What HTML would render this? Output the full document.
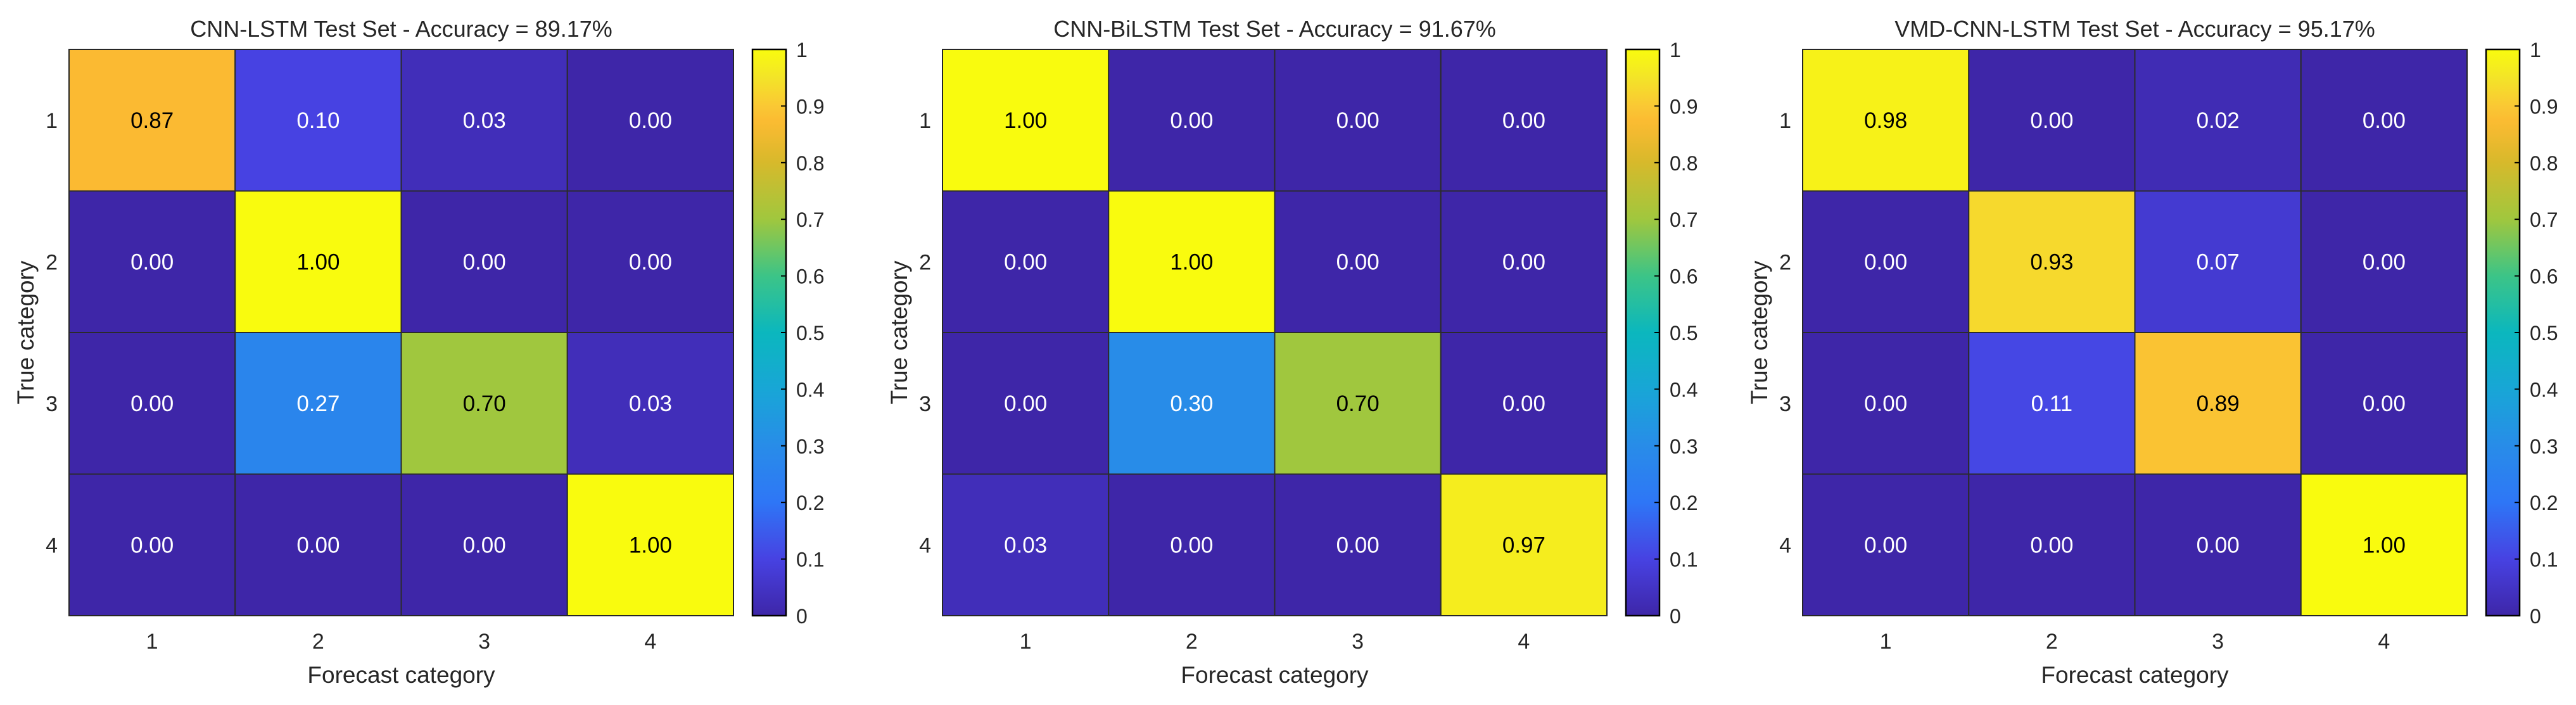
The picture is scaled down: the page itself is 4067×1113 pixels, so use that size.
<!DOCTYPE html>
<html><head><meta charset="utf-8"><style>
html,body{margin:0;padding:0;background:#fff;}
svg{display:block;font-family:"Liberation Sans",Arial,sans-serif;}
</style></head><body>
<svg id="fig" width="4067" height="1113" viewBox="0 0 4067 1113"></svg>
<script>
const categories = ["1","2","3","4"];
const titles = ["CNN-LSTM Test Set - Accuracy = 89.17%","CNN-BiLSTM Test Set - Accuracy = 91.67%","VMD-CNN-LSTM Test Set - Accuracy = 95.17%"];
const matrixCnnLstm = [[0.87,0.10,0.03,0.00],[0.00,1.00,0.00,0.00],[0.00,0.27,0.70,0.03],[0.00,0.00,0.00,1.00]];
const matrixCnnBiLstm = [[1.00,0.00,0.00,0.00],[0.00,1.00,0.00,0.00],[0.00,0.30,0.70,0.00],[0.03,0.00,0.00,0.97]];
const matrixVmdCnnLstm = [[0.98,0.00,0.02,0.00],[0.00,0.93,0.07,0.00],[0.00,0.11,0.89,0.00],[0.00,0.00,0.00,1.00]];
const colorbarTicks = [0,0.1,0.2,0.3,0.4,0.5,0.6,0.7,0.8,0.9,1];
const colorbarTickLabels = ["0","0.1","0.2","0.3","0.4","0.5","0.6","0.7","0.8","0.9","1"];

const matrices = [matrixCnnLstm, matrixCnnBiLstm, matrixVmdCnnLstm];
const panelLefts = [109, 1488, 2846];
const W = 1049, TOP = 78, H = 894;

const stops = [[0,[62,38,168]],[0.1,[71,66,226]],[0.2,[46,118,246]],[0.3,[40,140,232]],[0.4,[24,166,214]],[0.5,[11,183,190]],[0.6,[60,196,135]],[0.7,[160,199,62]],[0.8,[215,185,43]],[0.87,[251,186,50]],[0.9,[250,200,52]],[0.95,[243,228,40]],[1,[249,251,14]]];
function parula(v){
  v=Math.max(0,Math.min(1,v));
  for(let i=1;i<stops.length;i++){
    if(v<=stops[i][0]){const a=stops[i-1],b=stops[i];const t=(v-a[0])/(b[0]-a[0]);
      const c=a[1].map((x,k)=>Math.round(x+(b[1][k]-x)*t));return `rgb(${c[0]},${c[1]},${c[2]})`;}
  }
  return "rgb(249,251,14)";
}
const NS="http://www.w3.org/2000/svg";
const svg=document.getElementById('fig');
function mk(tag,attrs,parent,text){const e=document.createElementNS(NS,tag);for(const k in attrs)e.setAttribute(k,attrs[k]);if(text!==undefined)e.textContent=text;(parent||svg).appendChild(e);return e;}

const defs=mk('defs',{});
const grad=mk('linearGradient',{id:'parulaGrad',x1:0,y1:1,x2:0,y2:0},defs);
for(let i=0;i<=40;i++){mk('stop',{offset:(i/40),'stop-color':parula(i/40)},grad);}

matrices.forEach((M,p)=>{
  const L=panelLefts[p];
  const g=mk('g',{});
  
  
  const n=categories.length, cw=W/n, ch=H/n;
  const xScale=j=>L+j*cw, yScale=i=>TOP+i*ch;
  const t=mk('text',{x:L+W/2,y:58,'text-anchor':'middle','font-size':36,fill:'#262626'},g,titles[p]);
  
  
  M.forEach((row,i)=>row.forEach((v,j)=>{
    const r=mk('rect',{x:xScale(j),y:yScale(i),width:cw,height:ch,fill:parula(v),stroke:'#2b2b2b','stroke-width':2},g);
    
    
    const tx=mk('text',{x:xScale(j)+cw/2,y:yScale(i)+ch/2+12,'text-anchor':'middle','font-size':35,fill:v>=0.5?'#000':'#fff'},g,v.toFixed(2));
    
    
  }));
  mk('rect',{x:L,y:TOP,width:W,height:H,fill:'none',stroke:'#262626','stroke-width':2},g);
  categories.forEach((c,k)=>{
    const xt=mk('text',{x:xScale(k)+cw/2,y:1024,'text-anchor':'middle','font-size':34,fill:'#262626'},g,c);
    
    
    const yt=mk('text',{x:L-18,y:yScale(k)+ch/2+12,'text-anchor':'end','font-size':34,fill:'#262626'},g,c);
    
    
  });
  const xl=mk('text',{x:L+W/2,y:1078,'text-anchor':'middle','font-size':37,fill:'#262626'},g,'Forecast category');
  
  
  const yl=mk('text',{x:0,y:0,'text-anchor':'middle','font-size':37,fill:'#262626',transform:`translate(${L-56},${TOP+H/2}) rotate(-90)`},g,'True category');
  
  
  const cbx=L+W+30, cbw=53;
  const cb=mk('rect',{x:cbx,y:TOP,width:cbw,height:H,fill:'url(#parulaGrad)',stroke:'#000','stroke-width':2.5},g);
  
  
  colorbarTicks.forEach((v,k)=>{
    const y=TOP+H-v*H;
    if(v>0&&v<1)mk('line',{x1:cbx+cbw-8,x2:cbx+cbw,y1:y,y2:y,stroke:'#000','stroke-width':2},g);
    const lt=mk('text',{x:cbx+cbw+16,y:y+12,'font-size':32,fill:'#262626'},g,colorbarTickLabels[k]);
    
    
  });
  svg.appendChild(g);
});
</script>
</body></html>
